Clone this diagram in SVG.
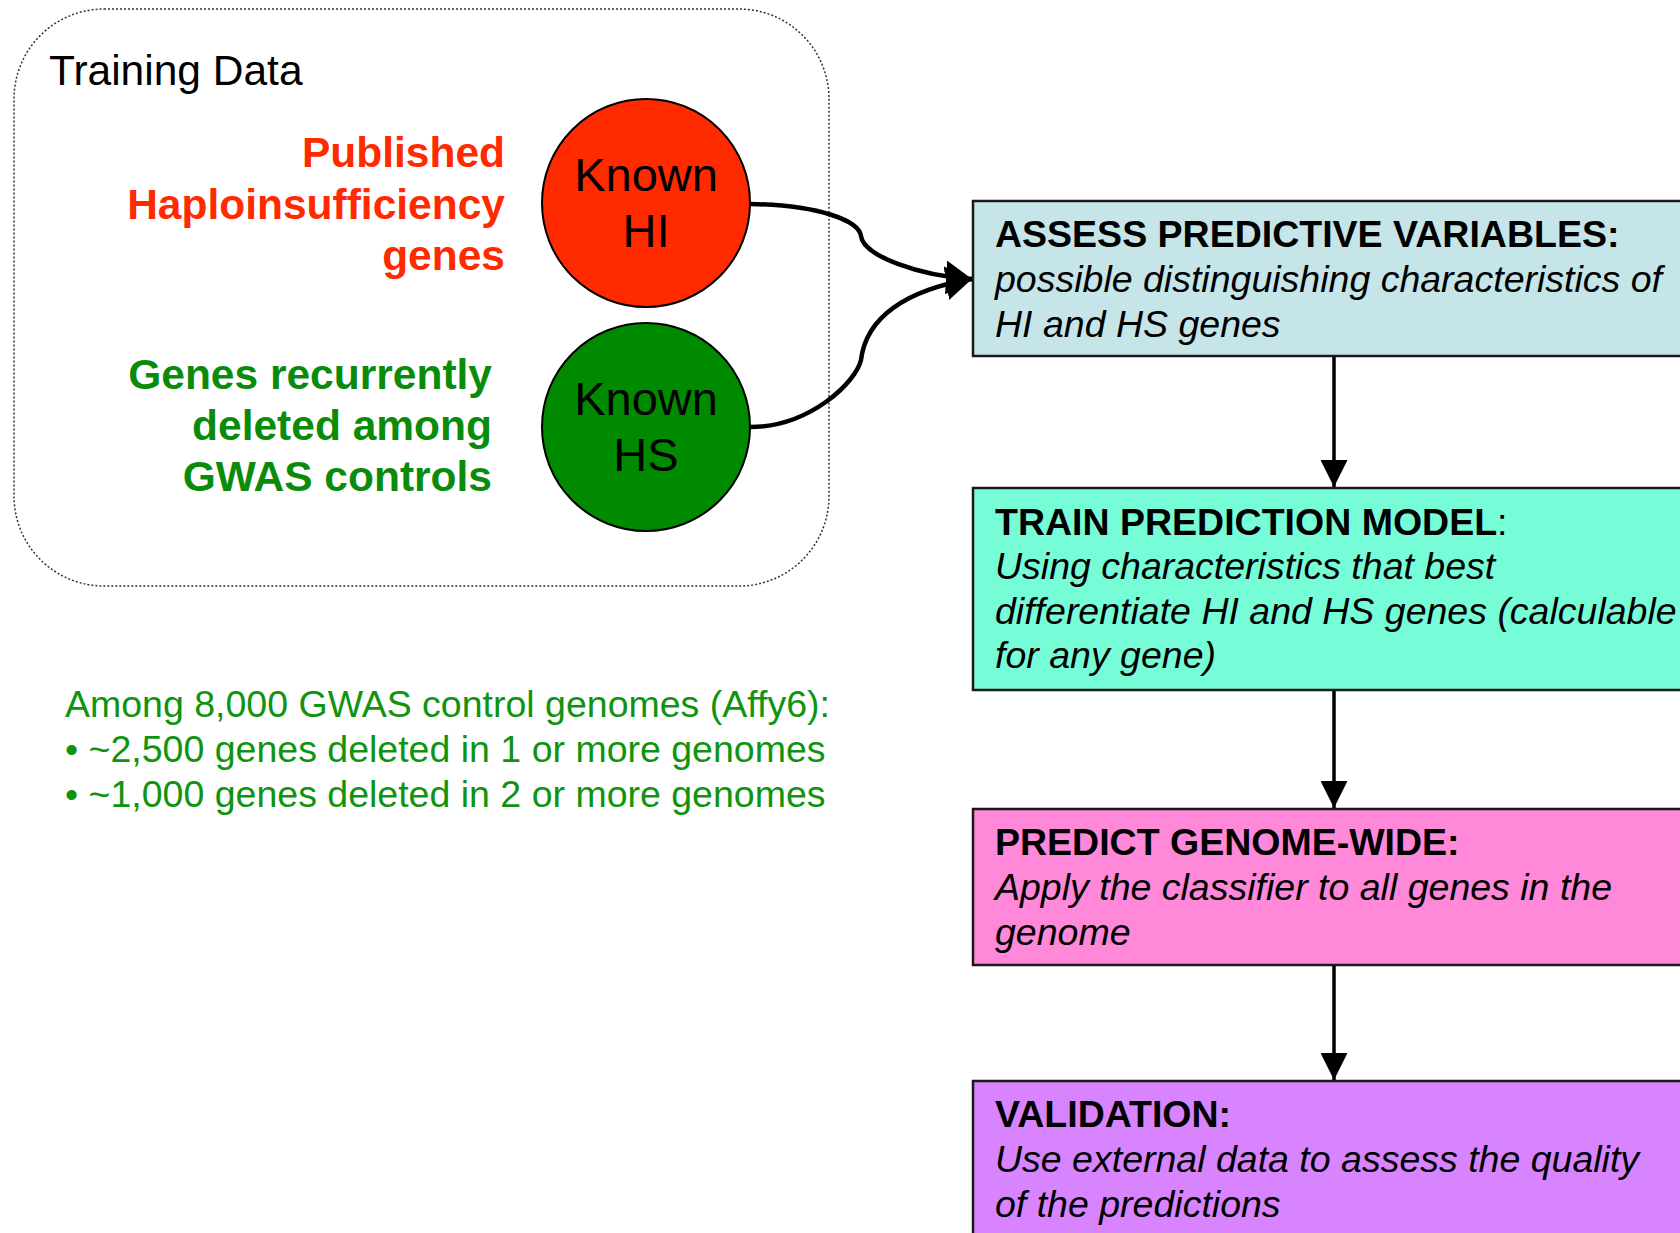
<svg xmlns="http://www.w3.org/2000/svg" width="1680" height="1233" viewBox="0 0 1680 1233">
<style>
text{font-family:"Liberation Sans",Arial,sans-serif}
.box{stroke:#1a1a1a;stroke-width:2.5}
.bt{font-size:37.5px;font-weight:bold;fill:#000}
.it{font-size:37.5px;font-style:italic;fill:#000}
.lab{font-size:42.5px;font-weight:bold;text-anchor:end}
.circ{stroke:#000;stroke-width:2}
.ct{font-size:47px;text-anchor:middle;fill:#000}
.conn{fill:none;stroke:#000}
</style>
<defs>
<marker id="ah" markerWidth="27" markerHeight="27" viewBox="0 0 27 27" refX="27" refY="13.5" orient="auto" markerUnits="userSpaceOnUse">
<path d="M0,0 L27,13.5 L0,27 Z" fill="#000"/>
</marker>
<marker id="ah2" markerWidth="26" markerHeight="34" viewBox="0 0 26 34" refX="26" refY="17" orient="auto" markerUnits="userSpaceOnUse">
<path d="M0,0 L26,17 L0,34 Z" fill="#000"/>
</marker>
</defs>
<rect width="1680" height="1233" fill="#fff"/>
<g id="training">
<rect x="14" y="9" width="815" height="577" rx="90" ry="90" fill="none" stroke="#333" stroke-width="1.5" stroke-dasharray="2,2"/>
<text x="49" y="85" font-size="42.5">Training Data</text>
</g>
<g id="hi-label">
<text class="lab" fill="#ff2a00"><tspan x="505" y="167">Published</tspan><tspan x="505" y="219">Haploinsufficiency</tspan><tspan x="505" y="270">genes</tspan></text>
</g>
<g id="hs-label">
<text class="lab" fill="#0a8c0a"><tspan x="492" y="389">Genes recurrently</tspan><tspan x="492" y="440">deleted among</tspan><tspan x="492" y="491">GWAS controls</tspan></text>
</g>
<g id="known-hi">
<circle class="circ" cx="646" cy="203" r="104" fill="#ff2a00"/>
<text class="ct"><tspan x="646" y="191">Known</tspan><tspan x="646" y="247">HI</tspan></text>
</g>
<g id="known-hs">
<circle class="circ" cx="646" cy="427" r="104" fill="#008a00"/>
<text class="ct"><tspan x="646" y="415">Known</tspan><tspan x="646" y="471">HS</tspan></text>
</g>
<g id="stats">
<text font-size="37.5" fill="#109410"><tspan x="65" y="717">Among 8,000 GWAS control genomes (Affy6):</tspan><tspan x="65" y="762">• ~2,500 genes deleted in 1 or more genomes</tspan><tspan x="65" y="807">• ~1,000 genes deleted in 2 or more genomes</tspan></text>
</g>
<g id="assess">
<rect class="box" x="973" y="201" width="740" height="155" fill="#c5e5e8"/>
<text class="bt" x="995" y="247">ASSESS PREDICTIVE VARIABLES:</text>
<text class="it"><tspan x="995" y="292">possible distinguishing characteristics of</tspan><tspan x="995" y="337">HI and HS genes</tspan></text>
</g>
<g id="train">
<rect class="box" x="973" y="488" width="740" height="202" fill="#77fcd8"/>
<text class="bt" x="995" y="535">TRAIN PREDICTION MODEL<tspan font-weight="normal">:</tspan></text>
<text class="it"><tspan x="995" y="579">Using characteristics that best</tspan><tspan x="995" y="624">differentiate HI and HS genes (calculable</tspan><tspan x="995" y="668">for any gene)</tspan></text>
</g>
<g id="predict">
<rect class="box" x="973" y="809" width="740" height="156" fill="#ff88d8"/>
<text class="bt" x="995" y="855">PREDICT GENOME-WIDE:</text>
<text class="it"><tspan x="995" y="900">Apply the classifier to all genes in the</tspan><tspan x="995" y="945">genome</tspan></text>
</g>
<g id="validation">
<rect class="box" x="973" y="1081" width="740" height="200" fill="#d884ff"/>
<text class="bt" x="995" y="1127">VALIDATION:</text>
<text class="it"><tspan x="995" y="1172">Use external data to assess the quality</tspan><tspan x="995" y="1217">of the predictions</tspan></text>
</g>
<g id="connectors">
<path class="conn" stroke-width="4.5" d="M750,204 C820,205 859,221 861,236 C863,256 920,276 972,279" marker-end="url(#ah2)"/>
<path class="conn" stroke-width="4.5" d="M750,427 C810,427 856,382 861,360 C866,318 905,290 972,279" marker-end="url(#ah2)"/>
<path class="conn" stroke-width="3.5" d="M1334,357 L1334,487" marker-end="url(#ah)"/>
<path class="conn" stroke-width="3.5" d="M1334,691 L1334,808" marker-end="url(#ah)"/>
<path class="conn" stroke-width="3.5" d="M1334,966 L1334,1080" marker-end="url(#ah)"/>
</g>
</svg>
